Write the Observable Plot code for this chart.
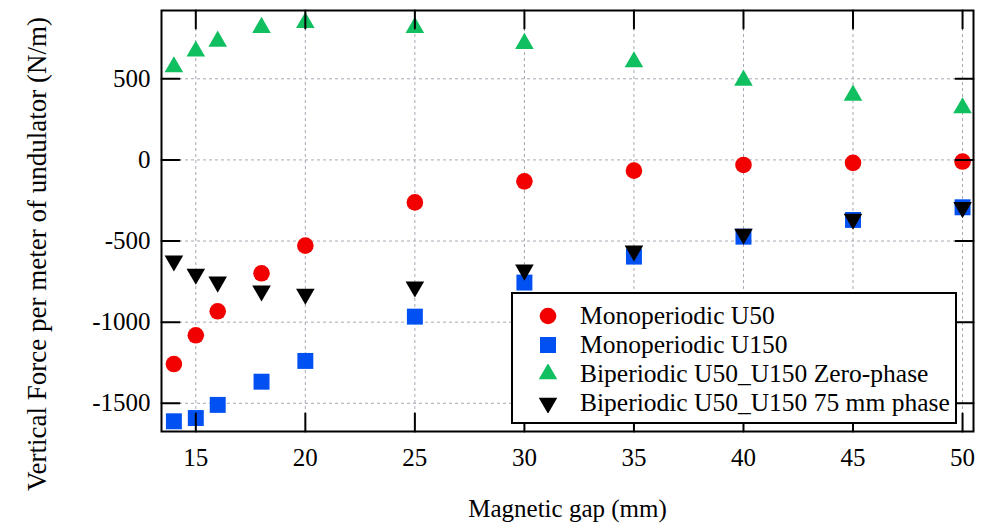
<!DOCTYPE html>
<html>
<head>
<meta charset="utf-8">
<script src="https://cdn.jsdelivr.net/npm/d3@7"></script>
<script src="https://cdn.jsdelivr.net/npm/@observablehq/plot@0.6"></script>
<style>
  html, body { margin: 0; padding: 0; background: #fff; }
  #wrap { position: relative; width: 983px; height: 523px; font-family: "Liberation Serif", "Times New Roman", serif; }
  #legend { position: absolute; left: 511px; top: 292px; width: 446px; height: 132px; box-sizing: border-box;
            border: 2px solid #000; background: #fff; font-size: 25.5px; color: #000; }
  .row { position: absolute; left: 0; height: 29px; white-space: nowrap; }
  .row svg { position: absolute; left: 25px; top: 5px; }
  .row span { position: absolute; left: 67px; top: 0; line-height: 29px; }
</style>
</head>
<body>
<div id="wrap"><div id="legend"></div></div>
<script>
// Data
const gap = [14, 15, 16, 18, 20, 25, 30, 35, 40, 45, 50];
const monoU50  = [-1258, -1081, -933, -699, -528, -262, -132, -66, -31, -18, -10];
const monoU150 = [-1611, -1591, -1510, -1367, -1239, -966, -756, -596, -473, -370, -292];
const biZero   = [573, 670, 731, 816, 846, 816, 717, 604, 491, 398, 320];
const bi75     = [-622, -704, -752, -807, -827, -782, -678, -560, -457, -365, -293];

const xTicks = [15, 20, 25, 30, 35, 40, 45, 50];
const yTicks = [-1500, -1000, -500, 0, 500];

const seriesNames = ["Monoperiodic U50", "Monoperiodic U150", "Biperiodic U50_U150 Zero-phase", "Biperiodic U50_U150 75 mm phase"];
const seriesColors = ["#f20000", "#0050f2", "#10c060", "#000000"];
const seriesSymbols = ["circle", "square", "triangle", "triangle"];
const seriesRotate = [0, 0, 0, 180];
const seriesR = [8.3, 9, 6.9, 6.9];
const seriesValues = [monoU50, monoU150, biZero, bi75];

const xTitle = "Magnetic gap (mm)";
const yTitle = "Vertical Force per meter of undulator (N/m)";

const tickShape = { draw(ctx, l) { ctx.moveTo(0, 0); ctx.lineTo(0, -l); } };
const tickStyle = { length: 18, anchor: "start", shape: tickShape, stroke: "black", strokeWidth: 2 };

const dotMarks = seriesValues.map((vals, i) =>
  Plot.dot(vals, { x: gap, y: vals, symbol: seriesSymbols[i], fill: seriesColors[i], r: seriesR[i], rotate: seriesRotate[i] })
);

const chart = Plot.plot({
  width: 983,
  height: 523,
  marginLeft: 161,
  marginRight: 10,
  marginTop: 10,
  marginBottom: 92,
  style: { fontFamily: "Liberation Serif, Times New Roman, serif", fontSize: "25px", color: "black", background: "white" },
  x: { domain: [13.434, 50.5], label: null },
  y: { domain: [-1674, 921], label: null },
  marks: [
    Plot.gridX(xTicks, { stroke: "#a8a8b4", strokeOpacity: 1, strokeDasharray: "3,3", strokeWidth: 1 }),
    Plot.gridY(yTicks, { stroke: "#a8a8b4", strokeOpacity: 1, strokeDasharray: "3,3", strokeWidth: 1 }),
    ...dotMarks,
    Plot.vector(xTicks, { x: d => d, frameAnchor: "bottom", rotate: 0, ...tickStyle }),
    Plot.vector(xTicks, { x: d => d, frameAnchor: "top", rotate: 180, ...tickStyle }),
    Plot.vector(yTicks, { y: d => d, frameAnchor: "left", rotate: 90, ...tickStyle }),
    Plot.vector(yTicks, { y: d => d, frameAnchor: "right", rotate: -90, ...tickStyle }),
    Plot.frame({ stroke: "black", strokeWidth: 2 }),
    Plot.axisX(xTicks, { tickSize: 0, tickPadding: 17, fontSize: 25, label: null, tickFormat: d => String(d) }),
    Plot.axisY(yTicks, { tickSize: 0, tickPadding: 11, fontSize: 25, label: null, tickFormat: d => String(d) }),
    Plot.text([xTitle], { text: d => d, frameAnchor: "bottom", dy: 85, fontSize: 25, fill: "black", textAnchor: "middle" }),
    Plot.text([yTitle], { text: d => d, frameAnchor: "left", dx: -124, dy: 33, rotate: -90, fontSize: 27, fill: "black", textAnchor: "middle" })
  ]
});

const wrap = document.getElementById("wrap");
wrap.insertBefore(chart, wrap.firstChild);

// Legend
const legend = document.getElementById("legend");
const rowCenters = [21, 50, 79, 108];
seriesNames.forEach((name, i) => {
  const row = document.createElement("div");
  row.className = "row";
  row.style.top = (rowCenters[i] - 14.5) + "px";
  const size = Math.PI * seriesR[i] * seriesR[i];
  const sym = { circle: d3.symbolCircle, square: d3.symbolSquare, triangle: d3.symbolTriangle }[seriesSymbols[i]];
  const path = d3.symbol(sym, size)();
  row.innerHTML = `<svg width="20" height="20" viewBox="-10 -10 20 20"><path d="${path}" fill="${seriesColors[i]}" transform="rotate(${seriesRotate[i]})"/></svg><span>${name}</span>`;
  legend.appendChild(row);
});
</script>
</body>
</html>
